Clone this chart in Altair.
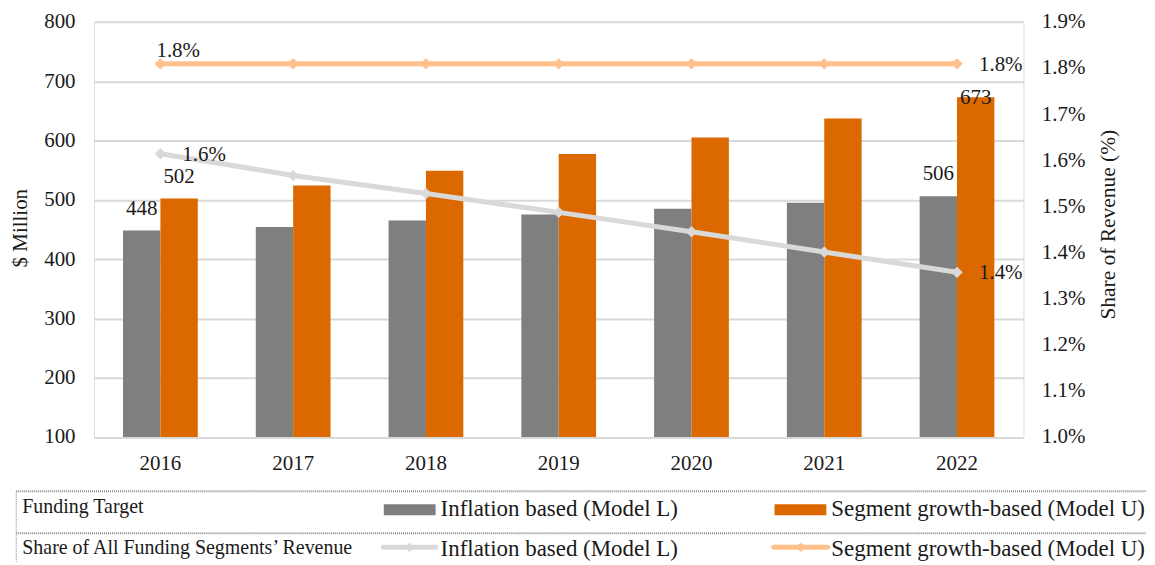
import altair as alt
import pandas as pd

# ---------------- data ----------------
years = ["2016", "2017", "2018", "2019", "2020", "2021", "2022"]
series_names = ["Inflation based (Model L)", "Segment growth-based (Model U)"]
inflation_musd = [448, 454, 465, 475, 485, 495, 506]
growth_musd = [502, 524, 549, 577, 605, 637, 673]
inflation_bar_labels = ["448", "", "", "", "", "", "506"]
growth_bar_labels = ["502", "", "", "", "", "", "673"]
inflation_share = [1.614, 1.567, 1.528, 1.487, 1.445, 1.401, 1.357]
growth_share = [1.809, 1.809, 1.809, 1.809, 1.809, 1.809, 1.809]
inflation_share_labels = ["1.6%", "", "", "", "", "", "1.4%"]
growth_share_labels = ["1.8%", "", "", "", "", "", "1.8%"]
left_ticks = [100, 200, 300, 400, 500, 600, 700, 800]
right_ticks = [1.0, 1.1, 1.2, 1.3, 1.4, 1.5, 1.6, 1.7, 1.8, 1.9]
legend_rows = ["Funding Target", "Share of All Funding Segments\u2019 Revenue"]

GRAY_BAR = "#7f7f7f"
ORANGE_BAR = "#dc6900"
GRAY_LINE = "#d9d9d9"
ORANGE_LINE = "#ffc08c"
TXT = "#1a1a1a"
FONT = "Liberation Serif"
FS = 21
LFONT = "Liberation Serif"

W = 932.4
H = 416.5

bars = pd.DataFrame({
    "year": years * 2,
    "series": [series_names[0]] * 7 + [series_names[1]] * 7,
    "value": inflation_musd + growth_musd,
    "label": inflation_bar_labels + growth_bar_labels,
})
shares = pd.DataFrame({
    "year": years * 2,
    "series": [series_names[0]] * 7 + [series_names[1]] * 7,
    "share": inflation_share + growth_share,
    "label": inflation_share_labels + growth_share_labels,
})

x_enc = alt.X(
    "year:N", sort=years,
    scale=alt.Scale(paddingInner=0.437, paddingOuter=0.2185),
    axis=alt.Axis(title=None, domain=False, ticks=False, grid=False, labelAngle=0,
                  labelPadding=16, labelFont=FONT, labelFontSize=FS, labelColor=TXT),
)
xoff = alt.XOffset("series:N", sort=series_names,
                   scale=alt.Scale(paddingInner=0, paddingOuter=0))
y_left = alt.Y(
    "value:Q",
    scale=alt.Scale(domain=[100, 800], nice=False, zero=False),
    axis=alt.Axis(title="$ Million", values=left_ticks, grid=True, gridColor=GRAY_LINE,
                  gridWidth=2, domain=False, ticks=False, labelPadding=19,
                  labelFont=FONT, labelFontSize=FS, labelColor=TXT,
                  titleFont=FONT, titleFontSize=21, titleFontWeight="normal", titleColor=TXT,
                  titleAngle=270, titleX=-74, titleY=206.5, titleBaseline="middle",
                  titleAlign="center"),
)
y_right = alt.Y(
    "share:Q",
    scale=alt.Scale(domain=[1.0, 1.9], nice=False, zero=False),
    axis=alt.Axis(orient="right", title="Share of Revenue (%)", values=right_ticks,
                  labelExpr="format(datum.value, '.1f') + '%'", grid=False, domain=False,
                  ticks=False, labelPadding=18, labelFont=FONT, labelFontSize=FS,
                  labelColor=TXT, titleFont=FONT, titleFontSize=21.5,
                  titleFontWeight="normal", titleColor=TXT, titleAngle=270, titleX=85.3,
                  titleY=203, titleBaseline="middle", titleAlign="center"),
)

base_bar = alt.Chart(bars)
bar_marks = base_bar.mark_bar().encode(
    x=x_enc, xOffset=xoff, y=y_left, y2=alt.datum(100),
    color=alt.Color("series:N", sort=series_names,
                    scale=alt.Scale(domain=series_names, range=[GRAY_BAR, ORANGE_BAR]),
                    legend=None),
)
bar_labels_a = base_bar.transform_filter(
    "datum.label != '' && datum.label != '673'"
).mark_text(font=FONT, fontSize=FS, color=TXT, baseline="middle", dy=-22).encode(
    x=x_enc, xOffset=xoff, y=y_left, text="label:N")
bar_labels_b = base_bar.transform_filter("datum.label == '673'").mark_text(
    font=FONT, fontSize=FS, color=TXT, baseline="middle", dy=1).encode(
    x=x_enc, xOffset=xoff, y=y_left, text="label:N")
bar_group = alt.layer(bar_marks, bar_labels_a, bar_labels_b)

base_sh = alt.Chart(shares)
gray_line = base_sh.transform_filter(alt.datum.series == series_names[0]).mark_line(
    color=GRAY_LINE, strokeWidth=5).encode(x=x_enc, y=y_right)
gray_pts = base_sh.transform_filter(alt.datum.series == series_names[0]).mark_point(
    shape="diamond", filled=True, size=130, opacity=1, color=GRAY_LINE).encode(x=x_enc, y=y_right)
orange_line = base_sh.transform_filter(alt.datum.series == series_names[1]).mark_line(
    color=ORANGE_LINE, strokeWidth=5).encode(x=x_enc, y=y_right)
orange_pts = base_sh.transform_filter(alt.datum.series == series_names[1]).mark_point(
    shape="diamond", filled=True, size=130, opacity=1, color=ORANGE_LINE).encode(x=x_enc, y=y_right)
share_labels_right = base_sh.transform_filter(
    "datum.label != '' && !(datum.year == '2016' && datum.series == '%s')" % series_names[1]
).mark_text(font=FONT, fontSize=FS, color=TXT, align="left", baseline="middle",
            dx=22, dy=1).encode(x=x_enc, y=y_right, text="label:N")
share_label_top = base_sh.transform_filter(
    "datum.year == '2016' && datum.series == '%s'" % series_names[1]
).mark_text(font=FONT, fontSize=FS, color=TXT, align="left", baseline="middle",
            dx=-4, dy=-13).encode(x=x_enc, y=y_right, text="label:N")
line_group = alt.layer(gray_line, orange_line, gray_pts, orange_pts,
                       share_labels_right, share_label_top)

# ---------------- custom table legend ----------------
one = alt.Chart(pd.DataFrame({"k": [0]}))
DOT = dict(strokeDash=[1, 1], color="#8c8c8c", strokeWidth=2)
leg = [
    one.mark_rule(**DOT).encode(x=alt.value(-78), x2=alt.value(1056), y=alt.value(471)),
    one.mark_rule(**DOT).encode(x=alt.value(-78), x2=alt.value(1056), y=alt.value(513)),
    one.mark_rule(strokeDash=[1, 1], color="#8c8c8c", strokeWidth=1).encode(
        x=alt.value(-78), y=alt.value(471), y2=alt.value(545)),
    one.mark_text(font=LFONT, fontSize=20, color=TXT, align="left", baseline="middle",
                  text=legend_rows[0]).encode(x=alt.value(-72), y=alt.value(487)),
    one.mark_text(font=LFONT, fontSize=20, color=TXT, align="left", baseline="middle",
                  text=legend_rows[1]).encode(x=alt.value(-72), y=alt.value(528)),
    one.mark_rect(color=GRAY_BAR).encode(x=alt.value(290.7), x2=alt.value(342.7),
                                         y=alt.value(484), y2=alt.value(495)),
    one.mark_rect(color=ORANGE_BAR).encode(x=alt.value(682.7), x2=alt.value(734.7),
                                           y=alt.value(484), y2=alt.value(495)),
    one.mark_rule(color=GRAY_LINE, strokeWidth=5, strokeCap="round").encode(
        x=alt.value(290), x2=alt.value(343), y=alt.value(527)),
    one.mark_point(shape="diamond", filled=True, size=90, opacity=1, color=GRAY_LINE).encode(
        x=alt.value(316.5), y=alt.value(527)),
    one.mark_rule(color=ORANGE_LINE, strokeWidth=5, strokeCap="round").encode(
        x=alt.value(682), x2=alt.value(736), y=alt.value(527)),
    one.mark_point(shape="diamond", filled=True, size=90, opacity=1, color=ORANGE_LINE).encode(
        x=alt.value(709), y=alt.value(527)),
]
for i, name in enumerate(series_names):
    xx = 347.7 if i == 0 else 739.7
    for yy in (489, 529):
        leg.append(one.mark_text(font=LFONT, fontSize=23, color=TXT, align="left",
                                 baseline="middle", text=name).encode(
            x=alt.value(xx), y=alt.value(yy)))

chart = alt.layer(bar_group, line_group, *leg).resolve_scale(y="independent").properties(
    width=W, height=H,
    autosize=alt.AutoSizeParams(type="none"),
    padding={"left": 86.3, "top": 13, "right": 124, "bottom": 124},
).configure_view(stroke=None).configure(background="white")

chart.save("out.html", embed_options={"renderer": "svg", "actions": False})
